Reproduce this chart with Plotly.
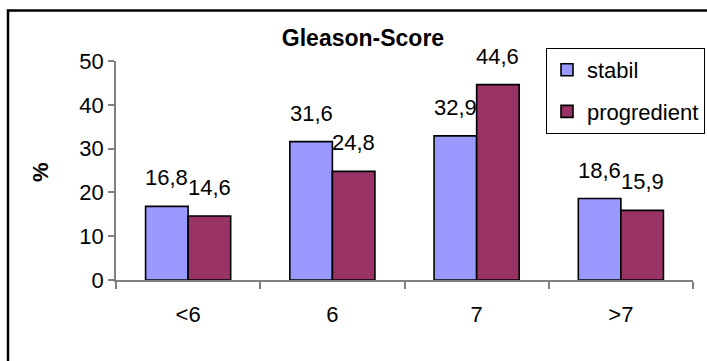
import plotly.graph_objects as go

# Gleason score categories and percentages per group
categories = ["<6", "6", "7", ">7"]
stabil = [16.8, 31.6, 32.9, 18.6]
progredient = [14.6, 24.8, 44.6, 15.9]
series_names = ["stabil", "progredient"]
y_ticks = [0, 10, 20, 30, 40, 50]

FONT = "Liberation Sans, Arial, sans-serif"
FS = 22
W, H = 707, 361
L, R, T, B = 116, 14, 61, 81
BAR_COLORS = ["#9999FF", "#993366"]
pw, ph = W - L - R, H - T - B

fig = go.Figure()
for i, (name, vals) in enumerate(zip(series_names, [stabil, progredient])):
    fig.add_trace(go.Bar(
        x=categories, y=vals, name=name, legendgroup=name,
        marker=dict(color=BAR_COLORS[i], line=dict(color="black", width=1.6)),
    ))

# value labels above each bar (decimal comma); x given as category index
half = pw / len(categories) * (1 - 0.41) / 4
for i, vals in enumerate([stabil, progredient]):
    for k, v in enumerate(vals):
        fig.add_annotation(
            x=k, y=v, xref="x", yref="y",
            text=f"{v:.1f}".replace(".", ","),
            showarrow=False, yanchor="bottom",
            xshift=(-half if i == 0 else half), yshift=14,
            font=dict(family=FONT, size=FS, color="black"),
        )

# y-axis title
fig.add_annotation(
    x=(40 - L) / pw, y=0.493, xref="paper", yref="paper",
    xanchor="center", yanchor="middle",
    text="<b>%</b>", textangle=-90, showarrow=False,
    font=dict(family=FONT, size=FS, color="black"),
)

# outer frame of the chart
fig.add_shape(
    type="rect", xref="paper", yref="paper",
    x0=(8 - L) / pw, x1=(730 - L) / pw,
    y0=(H - B - 380) / ph, y1=(H - B - 10.5) / ph,
    line=dict(color="black", width=2.5), fillcolor="rgba(0,0,0,0)",
    layer="above",
)

fig.update_layout(
    width=W, height=H,
    margin=dict(l=L, r=R, t=T, b=B, autoexpand=False),
    paper_bgcolor="white", plot_bgcolor="white",
    barmode="group", bargap=0.41, bargroupgap=0,
    font=dict(family=FONT, size=FS, color="black"),
    title=dict(
        text="<b>Gleason-Score</b>", xref="container", yref="container",
        x=363 / W, y=1 - 38 / H, xanchor="center", yanchor="middle",
        font=dict(family=FONT, size=23, color="black"),
    ),
    legend=dict(
        xref="paper", yref="paper",
        x=(546 - L) / pw, y=(H - B - 48) / ph, xanchor="left", yanchor="top",
        bordercolor="black", borderwidth=1, bgcolor="white",
        font=dict(family=FONT, size=FS, color="black"),
        traceorder="grouped", tracegroupgap=10,
        itemwidth=30,
    ),
    showlegend=True,
)

fig.update_xaxes(
    type="category", range=[-0.5, len(categories) - 0.5],
    showline=True, linecolor="#808080", linewidth=1.5,
    ticks="outside", tickson="boundaries", ticklen=7, tickcolor="#808080",
    tickwidth=1.5, showgrid=False, ticklabelstandoff=14,
    tickfont=dict(family=FONT, size=FS, color="black"),
)
fig.update_yaxes(
    range=[0, 50], tickvals=y_ticks, showline=True, linecolor="#808080",
    linewidth=1.5, ticks="outside", ticklen=6, tickcolor="#808080",
    tickwidth=1.5, showgrid=False, zeroline=False,
    tickfont=dict(family=FONT, size=FS, color="black"),
)

fig.write_html("out.html")
